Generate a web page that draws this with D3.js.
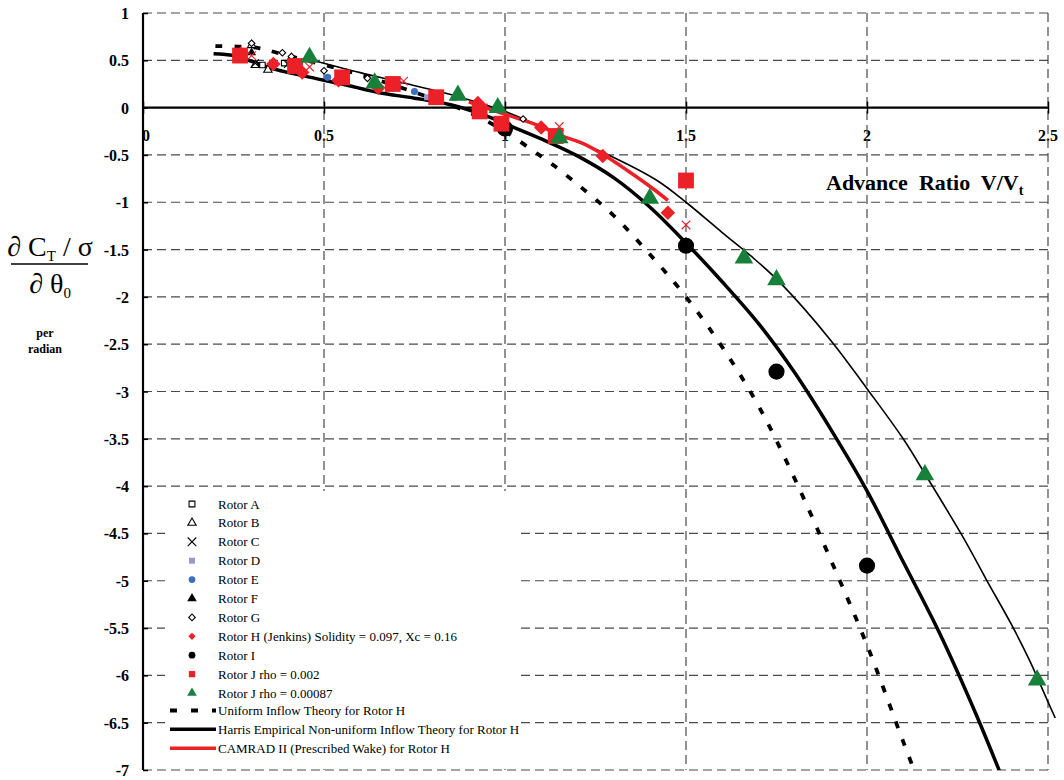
<!DOCTYPE html>
<html lang="en">
<head>
<meta charset="UTF-8">
<title>Advance ratio chart</title>
<script src="https://d3js.org/d3.v7.min.js"></script>
<style>
    body { margin: 0; background: #fff; }
    text { font-family: "Liberation Serif", "Times New Roman", serif; }
</style>
</head>
<body>
<div id="chart"></div>
<script>
    // axis ticks
    const xTicks = [0, 0.5, 1, 1.5, 2, 2.5];
    const xTickLabels = ['0', '0.5', '1', '1.5', '2', '2.5'];
    const yTicks = [1, 0.5, 0, -0.5, -1, -1.5, -2, -2.5, -3, -3.5, -4, -4.5, -5, -5.5, -6, -6.5, -7];
    const yTickLabels = ['1', '0.5', '0', '-0.5', '-1', '-1.5', '-2', '-2.5', '-3', '-3.5', '-4', '-4.5', '-5', '-5.5', '-6', '-6.5', '-7'];

    // test data, [advance ratio, dCT/sigma / dtheta0]
    const rotorA = [[0.39, 0.47], [0.33, 0.45]];
    const rotorB = [[0.30, 0.66], [0.345, 0.40], [0.31, 0.45]];
    const rotorC = [[0.31, 0.47], [0.40, 0.46]];
    const rotorD = [[0.785, 0.11], [0.86, 0.10]];
    const rotorE = [[0.51, 0.32], [0.75, 0.17]];
    const rotorF = [[0.30, 0.58], [0.41, 0.53]];
    const rotorG = [[0.30, 0.68], [0.385, 0.58], [0.41, 0.54], [0.50, 0.39], [0.62, 0.31], [1.05, -0.12]];
    const rotorH = [[0.27, 0.57], [0.36, 0.46], [0.44, 0.37], [0.54, 0.29], [0.65, 0.21], [0.925, 0.05], [1.10, -0.21], [1.27, -0.51], [1.45, -1.11]];
    const rotorHx = [[0.30, 0.55], [0.46, 0.43], [0.72, 0.28], [1.15, -0.20], [1.50, -1.24]];
    const rotorI = [[1.0, -0.22], [1.5, -1.46], [1.75, -2.79], [2.0, -4.84]];
    const rotorJ002 = [[0.268, 0.55], [0.42, 0.44], [0.55, 0.32], [0.69, 0.25], [0.81, 0.11], [0.93, -0.04], [0.99, -0.17], [1.14, -0.30], [1.50, -0.77]];
    const rotorJ00087 = [[0.46, 0.53], [0.64, 0.26], [0.87, 0.13], [0.98, 0.0], [1.15, -0.32], [1.40, -0.96], [1.66, -1.59], [1.75, -1.82], [2.16, -3.88], [2.47, -6.05]];

    // theory curves
    const uniformTheory = [[0.2, 0.65], [0.26, 0.645], [0.32, 0.63], [0.37, 0.58], [0.45, 0.5], [0.59, 0.36], [0.76, 0.15], [0.9, -0.05], [1.0, -0.25], [1.075, -0.45], [1.124, -0.58], [1.2, -0.81], [1.3, -1.14], [1.4, -1.55], [1.5, -2.0], [1.6, -2.53], [1.7, -3.15], [1.8, -3.92], [1.9, -4.78], [2.0, -5.68], [2.1, -6.7], [2.14, -7.1]];
    const harrisTheory = [[0.195, 0.57], [0.25, 0.55], [0.3, 0.49], [0.35, 0.42], [0.45, 0.33], [0.55, 0.25], [0.65, 0.16], [0.75, 0.1], [0.85, 0.03], [0.95, -0.09], [1.0, -0.17], [1.1, -0.33], [1.2, -0.51], [1.3, -0.74], [1.4, -1.05], [1.5, -1.43], [1.6, -1.84], [1.7, -2.28], [1.8, -2.8], [1.9, -3.4], [2.0, -4.05], [2.1, -4.8], [2.2, -5.55], [2.3, -6.4], [2.37, -7.05]];
    const thinCurve = [[0.45, 0.52], [0.6, 0.37], [0.72, 0.26], [0.876, 0.11], [1.0, -0.04], [1.1, -0.2], [1.2, -0.36], [1.28, -0.49], [1.42, -0.77], [1.5, -1.0], [1.6, -1.32], [1.68, -1.57], [1.76, -1.85], [1.9, -2.46], [2.0, -2.97], [2.1, -3.5], [2.16, -3.87], [2.27, -4.57], [2.33, -4.99], [2.4, -5.47], [2.45, -5.85], [2.5, -6.28], [2.52, -6.45]];
    const camradTheory = [[0.9, 0.06], [1.0, -0.07], [1.1, -0.2], [1.15, -0.29], [1.21, -0.37], [1.26, -0.47], [1.34, -0.67], [1.41, -0.86], [1.45, -0.98]];

    const width = 1064, height = 780;
    const plot = {left: 143, right: 1048, top: 13, bottom: 770};

    const red = '#ec2027', green = '#17803a', blue = '#3b6fc0', lavender = '#9a98cc';

    const svg = d3.select('#chart')
        .append('svg')
            .attr('width', width)
            .attr('height', height);

    svg.append('rect')
        .attr('width', width)
        .attr('height', height)
        .attr('fill', '#fff');

    const x = d3.scaleLinear().domain([0, 2.5]).range([plot.left, plot.right]);
    const y = d3.scaleLinear().domain([-7, 1]).range([plot.bottom, plot.top]);

    // tick labels (drawn under the grid, as in the original)
    svg.append('g')
        .selectAll('text')
        .data(yTicks)
        .join('text')
            .attr('x', 129)
            .attr('y', d => y(d) + 6)
            .attr('text-anchor', 'end')
            .attr('font-size', 16)
            .attr('font-weight', 'bold')
            .text((d, i) => yTickLabels[i]);

    svg.append('g')
        .selectAll('text')
        .data(xTicks)
        .join('text')
            .attr('x', d => d === 0 ? x(d) + 3 : x(d))
            .attr('y', y(0) + 33)
            .attr('text-anchor', 'middle')
            .attr('font-size', 16)
            .attr('font-weight', 'bold')
            .text((d, i) => xTickLabels[i]);

    // dashed grid
    const grid = svg.append('g')
        .attr('stroke', '#4a4a4a')
        .attr('stroke-width', 1.2)
        .attr('stroke-dasharray', '9,5');
    grid.selectAll('.h')
        .data(yTicks.filter(d => d !== 0))
        .join('line')
            .attr('x1', plot.left).attr('x2', plot.right)
            .attr('y1', d => y(d)).attr('y2', d => y(d));
    grid.selectAll('.v')
        .data(xTicks.filter(d => d !== 0))
        .join('line')
            .attr('x1', d => x(d)).attr('x2', d => x(d))
            .attr('y1', plot.top).attr('y2', plot.bottom);

    // axes
    const yAxis = svg.append('g')
        .attr('transform', `translate(${plot.left},0)`)
        .call(d3.axisRight(y).tickValues(yTicks).tickSize(5).tickFormat(''));
    yAxis.select('.domain').attr('stroke-width', 2.2).attr('d', `M0,${plot.top}V${plot.bottom}`);
    yAxis.selectAll('.tick line').attr('stroke-width', 1.5);

    const xAxis = svg.append('g')
        .attr('transform', `translate(0,${y(0)})`)
        .call(d3.axisBottom(x).tickValues(xTicks).tickSize(6).tickFormat(''));
    xAxis.select('.domain').attr('stroke-width', 2.2).attr('d', `M${plot.left},0H${plot.right}`);
    xAxis.selectAll('.tick line').attr('y1', -6).attr('stroke-width', 1.5);

    // curves
    svg.append('clipPath').attr('id', 'clip')
        .append('rect')
            .attr('x', plot.left).attr('y', plot.top)
            .attr('width', width - plot.left).attr('height', plot.bottom - plot.top);

    const line = d3.line()
        .x(d => x(d[0]))
        .y(d => y(d[1]))
        .curve(d3.curveCatmullRom.alpha(0.5));

    const curves = svg.append('g').attr('clip-path', 'url(#clip)').attr('fill', 'none');
    curves.append('path').datum(thinCurve)
        .attr('d', line).attr('stroke', '#000').attr('stroke-width', 1.6);
    curves.append('path').datum(harrisTheory)
        .attr('d', line).attr('stroke', '#000').attr('stroke-width', 3.5);
    curves.append('path').datum(uniformTheory)
        .attr('d', line).attr('stroke', '#000').attr('stroke-width', 3.8)
        .attr('stroke-dasharray', '7,12');
    curves.append('path').datum(camradTheory)
        .attr('d', line).attr('stroke', red).attr('stroke-width', 3.5);

    // marker shapes
    const sq = s => d3.symbol(d3.symbolSquare, s);
    const tri = s => d3.symbol(d3.symbolTriangle, s);
    const circ = s => d3.symbol(d3.symbolCircle, s);
    const cross = s => d3.symbol(d3.symbolCross2 || d3.symbolX, s);
    const diam = s => d3.symbol(d3.symbolSquare, s);  // rotated 45 below

    const series = [
        {name: 'Rotor A', data: rotorA, sym: sq, size: 30, leg: 34, fill: '#fff', stroke: '#000'},
        {name: 'Rotor B', data: rotorB, sym: tri, size: 30, leg: 30, fill: '#fff', stroke: '#000'},
        {name: 'Rotor C', data: rotorC, sym: cross, size: 40, leg: 50, fill: 'none', stroke: '#000'},
        {name: 'Rotor D', data: rotorD, sym: sq, size: 36, leg: 36, fill: lavender, stroke: 'none'},
        {name: 'Rotor E', data: rotorE, sym: circ, size: 40, leg: 36, fill: blue, stroke: 'none'},
        {name: 'Rotor F', data: rotorF, sym: tri, size: 36, leg: 40, fill: '#000', stroke: 'none'},
        {name: 'Rotor G', data: rotorG, sym: diam, size: 22, leg: 22, fill: '#fff', stroke: '#000', rot: 45},
        {name: 'Rotor H (Jenkins) Solidity = 0.097, Xc = 0.16', data: rotorH, sym: diam, size: 105, leg: 26, fill: red, stroke: 'none', rot: 45},
        {name: 'Rotor I', data: rotorI, sym: circ, size: 205, leg: 36, fill: '#000', stroke: 'none'},
        {name: 'Rotor J rho = 0.002', data: rotorJ002, sym: sq, size: 250, leg: 40, fill: red, stroke: 'none'},
        {name: 'Rotor J rho = 0.00087', data: rotorJ00087, sym: tri, size: 150, leg: 40, fill: green, stroke: 'none'},
        {name: null, data: rotorHx, sym: cross, size: 50, fill: 'none', stroke: red}
    ];

    const marks = svg.append('g');
    series.forEach(s => {
        marks.append('g')
            .selectAll('path')
            .data(s.data)
            .join('path')
                .attr('transform', d => `translate(${x(d[0])},${y(d[1])})` + (s.rot ? ` rotate(${s.rot})` : ''))
                .attr('d', s.sym(s.size))
                .attr('fill', s.fill)
                .attr('stroke', s.stroke)
                .attr('stroke-width', 1.1);
    });

    // legend box
    const legend = svg.append('g');
    legend.append('rect')
        .attr('x', 165).attr('y', 491)
        .attr('width', 352).attr('height', 275)
        .attr('fill', '#fff');

    const rowY = i => 504 + i * 18.9;
    const legSeries = series.filter(s => s.name);
    legSeries.forEach((s, i) => {
        legend.append('path')
            .attr('transform', `translate(192,${rowY(i)})` + (s.rot ? ` rotate(${s.rot})` : ''))
            .attr('d', s.sym(s.leg))
            .attr('fill', s.fill)
            .attr('stroke', s.stroke)
            .attr('stroke-width', 1.1);
        legend.append('text')
            .attr('x', 218).attr('y', rowY(i) + 4.5)
            .attr('font-size', 13)
            .text(s.name);
    });

    const legLines = [
        {name: 'Uniform Inflow Theory for Rotor H', stroke: '#000', dash: '7,14', w: 4},
        {name: 'Harris Empirical Non-uniform Inflow Theory for Rotor H', stroke: '#000', dash: null, w: 3.5},
        {name: 'CAMRAD II (Prescribed Wake) for Rotor H', stroke: red, dash: null, w: 3.5}
    ];
    legLines.forEach((l, j) => {
        const yy = rowY(legSeries.length + j) - 1.5;
        legend.append('line')
            .attr('x1', 170).attr('x2', 216)
            .attr('y1', yy).attr('y2', yy)
            .attr('stroke', l.stroke)
            .attr('stroke-width', l.w)
            .attr('stroke-dasharray', l.dash);
        legend.append('text')
            .attr('x', 218).attr('y', yy + 4.5)
            .attr('font-size', 13)
            .text(l.name);
    });

    // x axis title
    const xt = svg.append('text')
        .attr('x', 826).attr('y', 190)
        .attr('font-size', 22)
        .attr('font-weight', 'bold')
        .attr('xml:space', 'preserve')
        .style('white-space', 'pre');
    xt.append('tspan').text('Advance  Ratio  V/V');
    xt.append('tspan').attr('dy', 5).attr('font-size', 14).text('t');

    // y axis title, a fraction
    const num = svg.append('text')
        .attr('x', 50).attr('y', 256)
        .attr('text-anchor', 'middle')
        .attr('font-size', 28);
    num.append('tspan').text('\u2202 C');
    num.append('tspan').attr('dy', 5).attr('font-size', 15).text('T');
    num.append('tspan').attr('dy', -5).text(' / \u03c3');

    svg.append('line')
        .attr('x1', 11).attr('x2', 88)
        .attr('y1', 264).attr('y2', 264)
        .attr('stroke', '#000').attr('stroke-width', 1.3);

    const den = svg.append('text')
        .attr('x', 50).attr('y', 293)
        .attr('text-anchor', 'middle')
        .attr('font-size', 28);
    den.append('tspan').text('\u2202 \u03b8');
    den.append('tspan').attr('dy', 5).attr('font-size', 15).text('0');

    svg.append('text')
        .attr('x', 45).attr('y', 337)
        .attr('text-anchor', 'middle')
        .attr('font-size', 12).attr('font-weight', 'bold')
        .text('per');
    svg.append('text')
        .attr('x', 45).attr('y', 353)
        .attr('text-anchor', 'middle')
        .attr('font-size', 12).attr('font-weight', 'bold')
        .text('radian');
</script>
</body>
</html>
